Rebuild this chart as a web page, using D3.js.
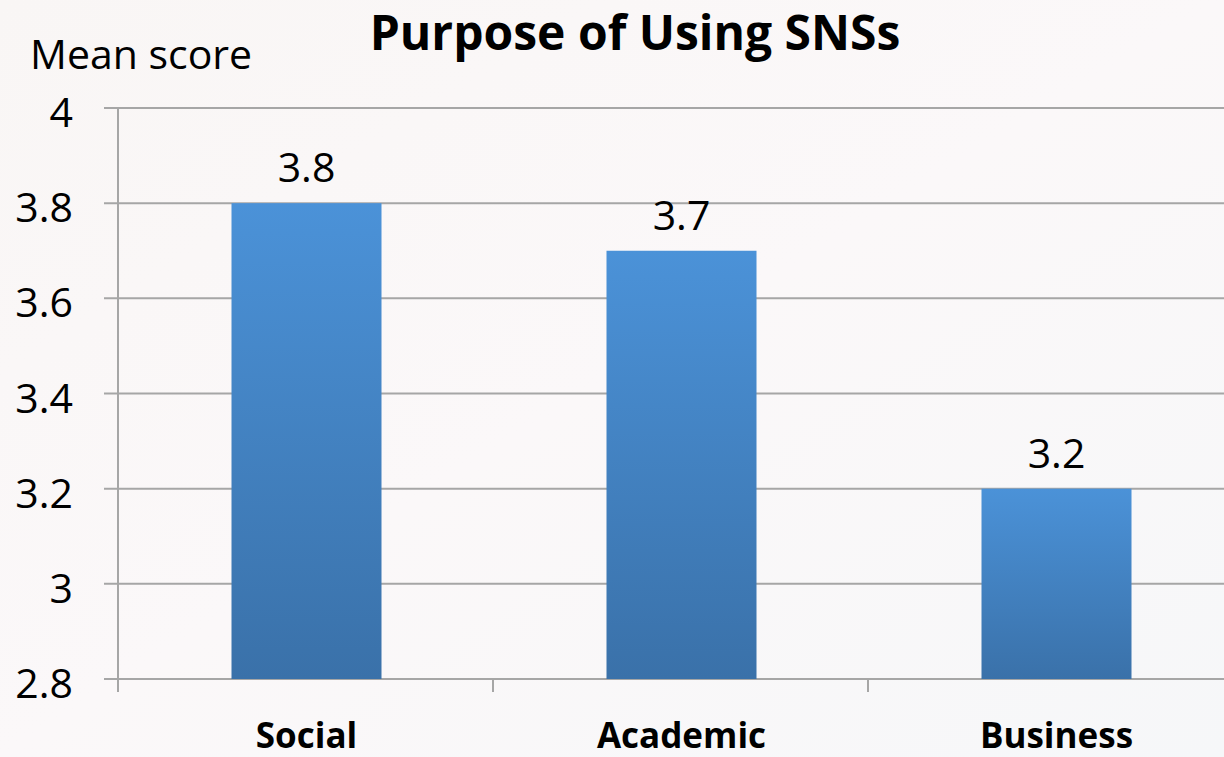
<!DOCTYPE html>
<html><head><meta charset="utf-8">
<script src="https://cdn.jsdelivr.net/npm/d3@7"></script>
<style>html,body{margin:0;padding:0;overflow:hidden;}</style>
</head><body>
<svg id="c" width="1224" height="757"></svg>
<script>
const categories = ["Social", "Academic", "Business"];
const values = [3.8, 3.7, 3.2];
const yTicks = [2.8, 3, 3.2, 3.4, 3.6, 3.8, 4];
const yTickLabels = ["2.8", "3", "3.2", "3.4", "3.6", "3.8", "4"];
const title = "Purpose of Using SNSs";
const yTitle = "Mean score";

const W = 1224, H = 757;
const svg = d3.select("#c");
const font = "'Open Sans', 'Liberation Sans', sans-serif";

// background
const defs = svg.append("defs");
const bg = defs.append("linearGradient").attr("id","bg").attr("x1","0").attr("y1","0").attr("x2","1").attr("y2","1");
bg.append("stop").attr("offset","0").attr("stop-color","#f9f6f5");
bg.append("stop").attr("offset","0.5").attr("stop-color","#fbf8f9");
bg.append("stop").attr("offset","1").attr("stop-color","#f6f7f9");
svg.append("rect").attr("width",W).attr("height",H).attr("fill","url(#bg)");

const barG = defs.append("linearGradient").attr("id","bar").attr("x1","0").attr("y1","0").attr("x2","0").attr("y2","1");
barG.append("stop").attr("offset","0").attr("stop-color","#4b92d8");
barG.append("stop").attr("offset","1").attr("stop-color","#3a71a9");

const pL = 118, pR = 1243, pT = 108, pB = 679;
const x = d3.scaleBand().domain(categories).range([pL, pR]).paddingInner(0).paddingOuter(0);
const y = d3.scaleLinear().domain([2.8, 4]).range([pB, pT]);

// gridlines
svg.append("g").selectAll("line").data(yTicks).join("line")
  .attr("x1", pL - 14).attr("x2", W)
  .attr("y1", d => y(d)).attr("y2", d => y(d))
  .attr("stroke", "#a6a6a6").attr("stroke-width", 2);

// y axis line
svg.append("line").attr("x1", pL).attr("x2", pL).attr("y1", pT).attr("y2", pB + 13)
  .attr("stroke", "#a6a6a6").attr("stroke-width", 2);

// x ticks at band boundaries
svg.append("g").selectAll("line").data(categories).join("line")
  .attr("x1", d => x(d)).attr("x2", d => x(d))
  .attr("y1", pB).attr("y2", pB + 13)
  .attr("stroke", "#a6a6a6").attr("stroke-width", 2);

// y tick labels
svg.append("g").selectAll("text").data(yTicks).join("text")
  .attr("x", 73).attr("y", d => y(d) + 19)
  .attr("text-anchor", "end")
  .attr("font-family", font).attr("font-size", 41).attr("fill", "#000")
  .text((d,i) => yTickLabels[i]);

// bars
const bw = x.bandwidth() * 0.4;
svg.append("g").selectAll("rect").data(values).join("rect")
  .attr("x", (d,i) => x(categories[i]) + x.bandwidth()/2 - bw/2 + 1)
  .attr("width", bw)
  .attr("y", d => y(d))
  .attr("height", d => pB - y(d))
  .attr("fill", "url(#bar)");

// value labels
svg.append("g").selectAll("text").data(values).join("text")
  .attr("x", (d,i) => x(categories[i]) + x.bandwidth()/2 + 1)
  .attr("y", d => y(d) - 21)
  .attr("text-anchor", "middle")
  .attr("font-family", font).attr("font-size", 41).attr("fill", "#000")
  .text(d => d.toFixed(1));

// category labels
svg.append("g").selectAll("text").data(categories).join("text")
  .attr("x", d => x(d) + x.bandwidth()/2 + 1)
  .attr("y", 748)
  .attr("text-anchor", "middle")
  .attr("font-family", font).attr("font-size", 35).attr("font-weight", "bold").attr("fill", "#000")
  .text(d => d);

// title
svg.append("text").attr("x", 635).attr("y", 50).attr("text-anchor","middle")
  .attr("font-family", font).attr("font-size", 48).attr("font-weight","bold").attr("fill","#000")
  .text(title);

// y title
svg.append("text").attr("x", 30).attr("y", 69)
  .attr("font-family", font).attr("font-size", 41).attr("fill","#000")
  .text(yTitle);
</script>
</body></html>
